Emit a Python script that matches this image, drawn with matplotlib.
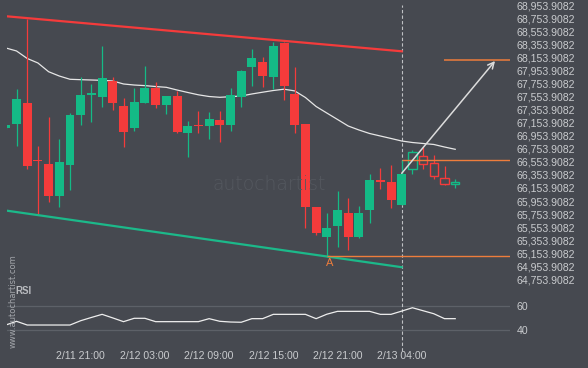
import numpy as np
import matplotlib
matplotlib.use('Agg')
import matplotlib.pyplot as plt

# hourly candles, index 0..42 (38..42 are the projected/hollow ones)
opens = [67069, 67139, 67457, 66572, 66522, 66036, 66511, 67277, 67584, 67553,
         67794, 67411, 67073, 67457, 67686, 67426, 67564, 66997, 67115, 67104,
         67196, 67119, 67553, 68008, 68085, 67855, 68376, 67595, 67135, 65863,
         65407, 65576, 65771, 65403, 65821, 66261, 66246, 65898,
         66440, 66640, 66532, 66303, 66211]
highs = [67125, 67671, 68739, 66802, 67237, 66900, 67308, 67860, 67748, 68330,
         67855, 67529, 67682, 68024, 67778, 67570, 67640, 67176, 67329, 67314,
         67329, 67686, 67962, 68284, 68162, 68391, 68391, 68004, 67140, 65870,
         65766, 66103, 66005, 65878, 66373, 66460, 66502, 66588,
         66736, 66787, 66655, 66486, 66287]
lows = [67060, 66802, 66440, 65755, 65944, 65858, 66123, 67115, 67161, 67400,
        67349, 66778, 67032, 67450, 67385, 67293, 66992, 66634, 66992, 66909,
        66863, 67032, 67400, 67722, 67706, 67671, 67503, 67001, 65545, 65438,
        65101, 65254, 65204, 65392, 65613, 66134, 65843, 65890,
        66364, 66440, 66287, 66205, 66149]
closes = [67119, 67518, 66496, 66563, 66036, 66552, 67273, 67579, 67610, 67840,
          67457, 67017, 67472, 67686, 67426, 67564, 67017, 67104, 67099, 67211,
          67119, 67579, 67947, 68146, 67870, 68330, 67717, 67119, 65867, 65469,
          65541, 65817, 65403, 65771, 66276, 66250, 65975, 66368,
          66701, 66517, 66333, 66211, 66241]
n_real = 38

ma = [68300, 68254, 68139, 68070, 67936, 67870, 67820, 67814, 67809, 67804,
      67794, 67748, 67732, 67723, 67709, 67697, 67656, 67618, 67582, 67556,
      67544, 67553, 67564, 67595, 67622, 67648, 67668, 67642, 67541, 67403,
      67303, 67204, 67104, 67043, 66989, 66951, 66913, 66874, 66851, 66836,
      66821, 66782, 66747]

rsi = [44.4, 47.5, 44.4, 44.4, 44.4, 44.4, 44.4, 48.0, 50.7, 53.3,
       50.3, 47.2, 50.0, 50.0, 47.2, 47.2, 47.2, 47.2, 47.2, 49.7,
       47.5, 46.9, 46.7, 49.7, 49.7, 53.3, 53.3, 53.3, 53.3, 49.7,
       53.4, 55.8, 55.8, 55.8, 55.8, 53.3, 53.3, 56.0, 58.8, 56.3,
       53.8, 49.7, 49.7]

resist = ([0.11, 37], [68785, 68249])
support = ([0.11, 37], [65806, 64940])
target_level = 68115
entry_level = 66588
low_level = 65107
point_a = (30.3, 65009)
arrow_from = (37, 66379)
arrow_to = (45.72, 68100)

price_ticks = np.arange(64753.9082, 68954, 200)
time_pos = [7, 13, 19, 25, 31, 37]
time_labels = ['2/11 21:00', '2/12 03:00', '2/12 09:00', '2/12 15:00', '2/12 21:00', '2/13 04:00']

bg = '#464950'
green = '#14ba86'
red = '#f53b3b'
orange = '#ee7d3c'
txt = '#c9cbce'
W, H = 588, 368

plt.rcParams['font.family'] = ['Liberation Sans', 'DejaVu Sans']
fig = plt.figure(figsize=(W / 100, H / 100), dpi=100, facecolor=bg)
ax = fig.add_axes([7 / W, (H - 285) / H, 503 / W, 285 / H], facecolor=bg)
ax2 = fig.add_axes([7 / W, (H - 345) / H, 503 / W, 60 / H], facecolor=bg, sharex=ax)

# watermark
bars = [(181.7, 185, 189.3), (187.3, 178.3, 189.3), (193.3, 173.3, 180), (199.3, 168.3, 176),
        (205, 170, 175), (212.3, 164, 172.7), (219, 166.7, 174), (225, 164, 170), (231, 158.3, 166)]
for bx, y0, y1 in bars:
    fig.add_artist(plt.Line2D([bx / W, bx / W], [1 - y0 / H, 1 - y1 / H], color='#54585f',
                              lw=2.4, solid_capstyle='round', zorder=0))
fig.text(213 / W, 1 - 185 / H, 'autochartist', color='#54585f', fontsize=13.5,
         family='DejaVu Sans', fontweight='light', va='center', ha='left', zorder=0)
fig.text(13 / W, 1 - 301 / H, 'www.autochartist.com', color='#a3a6ab', fontsize=6,
         family='DejaVu Sans', rotation=90, ha='center', va='center')

x = np.arange(len(opens))
o = np.array(opens, float)
c = np.array(closes, float)
up = c >= o
cols = np.where(up, green, red)
bottoms = np.minimum(o, c)
heights = np.maximum(np.abs(c - o), 22)
ax.vlines(x, lows, highs, colors=cols, lw=0.9, zorder=3)
for i in x:
    if i < n_real:
        ax.bar(i, heights[i], bottom=bottoms[i], width=0.84, color=cols[i], zorder=4, linewidth=0)
    else:
        ax.bar(i, heights[i], bottom=bottoms[i], width=0.78, facecolor=bg, edgecolor=cols[i],
               linewidth=1.0, zorder=4)

ax.plot(x, ma, color='#e6e6e6', lw=0.9, zorder=2)
ax.plot(*resist, color=red, lw=1.6, zorder=5)
ax.plot(*support, color='#1cb98a', lw=1.6, zorder=5)
ax.hlines(target_level, 40.98, 47.2, color=orange, lw=1.1, zorder=5)
ax.hlines(entry_level, 37, 47.2, color=orange, lw=1.0, zorder=5)
ax.hlines(low_level, 30.05, 47.2, color=orange, lw=1.0, zorder=5)
ax.text(point_a[0], point_a[1], 'A', color=orange, fontsize=8, ha='center', va='center')
ax.annotate('', xy=arrow_to, xytext=arrow_from,
            arrowprops=dict(arrowstyle='->', color='#dcdcdc', lw=1.1, mutation_scale=11,
                            shrinkA=0, shrinkB=0), zorder=6)
ax.axvline(37, ymin=0, ymax=(285 - 5) / 285, color='#bfc1c4', ls=(0, (3, 2)), lw=0.8, zorder=1)

ax.set_xlim(0.112, 47.12)
ax.set_ylim(64667.2, 69035.1)
ax.set_yticks(price_ticks)
ax.set_yticklabels(['{:,.4f}'.format(p) for p in price_ticks])
ax.yaxis.tick_right()
ax.tick_params(axis='y', length=0, pad=5, labelsize=7.6, labelcolor=txt)
ax.tick_params(axis='x', length=0, labelbottom=False)
for s in ax.spines.values():
    s.set_visible(False)

# RSI panel
ax2.plot(x[:len(rsi)], rsi, color='#eeeeee', lw=0.9, zorder=3)
ax2.axvline(37, ymin=-0.1, ymax=1, color='#bfc1c4', ls=(0, (3, 2)), lw=0.8, clip_on=False, zorder=2)
ax2.set_ylim(27.75, 77.75)
ax2.set_yticks([40, 60])
ax2.yaxis.tick_right()
ax2.grid(axis='y', color='#5d6168', lw=0.9)
ax2.set_xticks(time_pos)
ax2.set_xticklabels(time_labels)
ax2.tick_params(axis='y', length=0, pad=5, labelsize=7.6, labelcolor=txt)
ax2.tick_params(axis='x', length=0, pad=4, labelsize=7.6, labelcolor=txt)
for s in ax2.spines.values():
    s.set_visible(False)
ax2.text(0.016, 0.9, 'RSI', transform=ax2.transAxes, color='#b9bbbf', fontsize=7,
         fontweight='bold', va='center', ha='left')

fig.savefig('out.png', dpi=100, facecolor=bg)
